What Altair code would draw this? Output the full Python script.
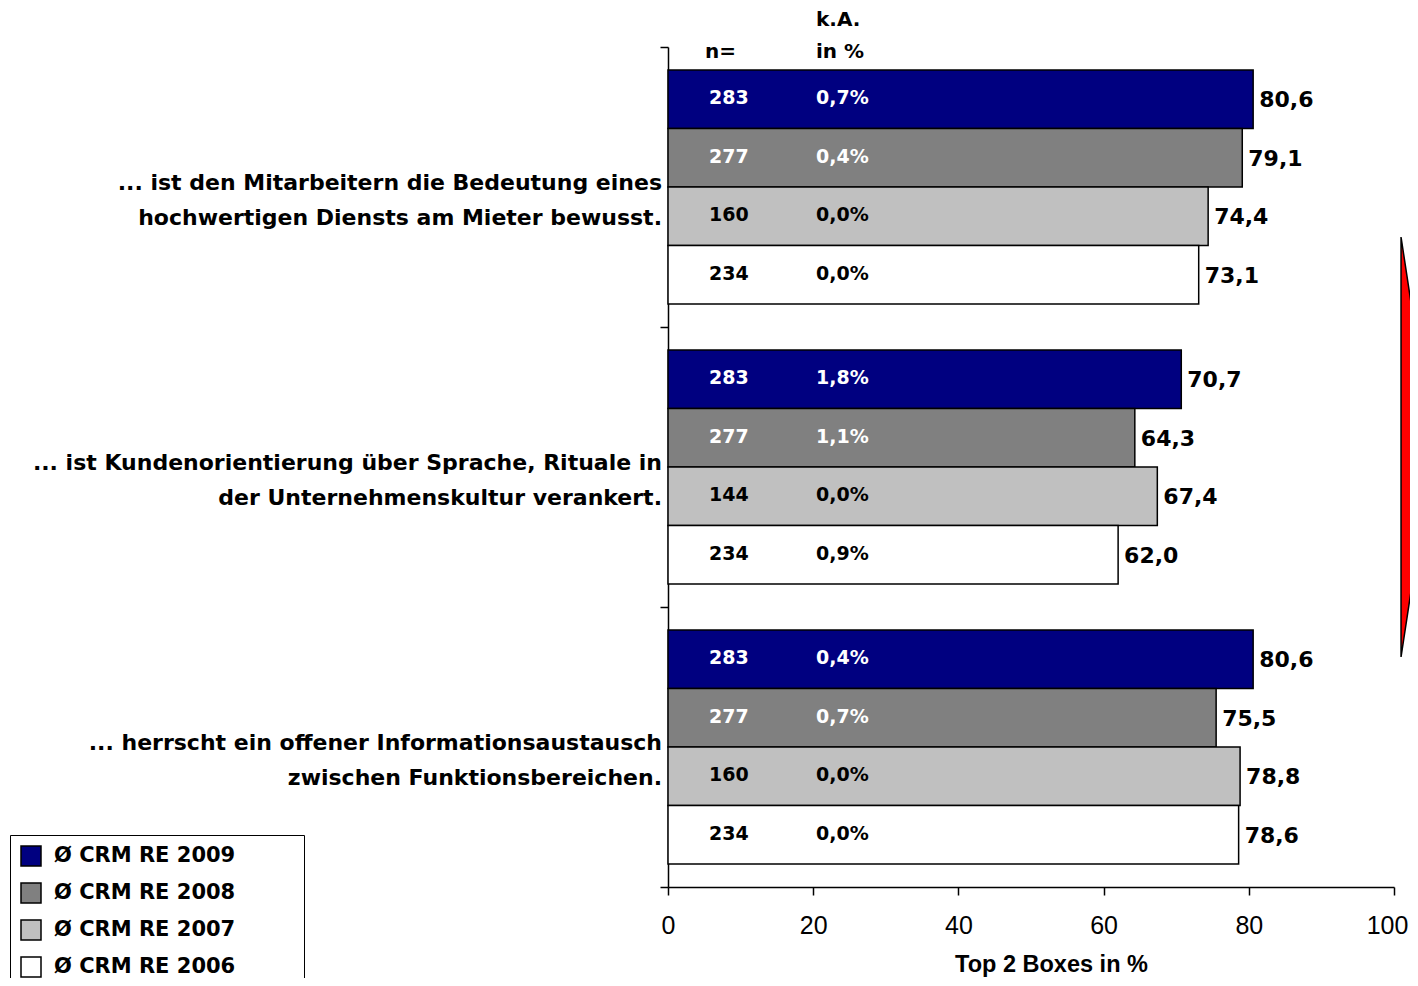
import altair as alt
import pandas as pd

groups = [
    "... ist den Mitarbeitern die Bedeutung eines\nhochwertigen Diensts am Mieter bewusst.",
    "... ist Kundenorientierung über Sprache, Rituale in\nder Unternehmenskultur verankert.",
    "... herrscht ein offener Informationsaustausch\nzwischen Funktionsbereichen.",
]
series = ["Ø CRM RE 2009", "Ø CRM RE 2008", "Ø CRM RE 2007", "Ø CRM RE 2006"]
colors = ["#000080", "#808080", "#C0C0C0", "#FFFFFF"]

values_g1 = [80.6, 79.1, 74.4, 73.1]
values_g2 = [70.7, 64.3, 67.4, 62.0]
values_g3 = [80.6, 75.5, 78.8, 78.6]
n_g1 = [283, 277, 160, 234]
n_g2 = [283, 277, 144, 234]
n_g3 = [283, 277, 160, 234]
ka_g1 = ["0,7%", "0,4%", "0,0%", "0,0%"]
ka_g2 = ["1,8%", "1,1%", "0,0%", "0,9%"]
ka_g3 = ["0,4%", "0,7%", "0,0%", "0,0%"]
x_ticks = [0, 20, 40, 60, 80, 100]

rows = []
for g, vals, ns, kas in zip(groups, [values_g1, values_g2, values_g3],
                            [n_g1, n_g2, n_g3], [ka_g1, ka_g2, ka_g3]):
    for s, v, n, k in zip(series, vals, ns, kas):
        rows.append({"group": g, "series": s, "value": v,
                     "label": f"{v:.1f}".replace(".", ","),
                     "n": str(n), "ka": k})
df = pd.DataFrame(rows)
df_groups = pd.DataFrame({"group": groups})

BOLD = "DejaVu Sans"
ARIAL = "Liberation Sans"

y_enc = alt.Y(
    "group:N", sort=groups, title=None,
    scale=alt.Scale(paddingInner=0, paddingOuter=0),
    axis=alt.Axis(labels=False, ticks=True, tickSize=8, tickColor="black",
                  tickWidth=1.5, domainColor="black", domainWidth=1.5,
                  bandPosition=1, tickExtra=True, grid=False, title=None),
)
yoff = alt.YOffset("series:N", sort=series,
                   scale=alt.Scale(paddingInner=0, paddingOuter=0.393))
x_enc = alt.X(
    "value:Q", scale=alt.Scale(domain=[0, 100], nice=False),
    axis=alt.Axis(values=x_ticks, title="Top 2 Boxes in %", grid=False,
                  tickSize=8, tickColor="black", tickWidth=1.5,
                  domainColor="black", domainWidth=1.5,
                  labelFont=ARIAL, labelFontSize=25, labelColor="black",
                  labelPadding=18,
                  labelOffset={"condition": {"test": "datum.value == 100", "value": -7}, "value": 0},
                  titleFont=ARIAL, titleFontSize=23.5, titleX=383,
                  titleFontWeight="bold", titleColor="black", titlePadding=14,
                  labelFlush=False),
)

base = alt.Chart(df)

PAD = "\u00a0" * 8 + "\u200b"

bars = base.mark_bar(stroke="black", strokeWidth=1.5).encode(
    x=x_enc, y=y_enc, yOffset=yoff,
    color=alt.Color(
        "series:N", sort=series,
        scale=alt.Scale(domain=series, range=colors),
        legend=alt.Legend(
            orient="none", legendX=-658, legendY=788, title=None,
            strokeColor="black", fillColor="white", padding=10,
            symbolType="square", symbolSize=400, symbolStrokeColor="black",
            symbolStrokeWidth=1.5, symbolOpacity=1,
            labelFont=BOLD, labelFontSize=21, labelFontWeight="bold",
            labelColor="black", labelOffset=12, rowPadding=11,
            labelExpr=f"datum.label + '{PAD}'", labelLimit=400,
        ),
    ),
)

value_text = base.mark_text(
    align="left", baseline="middle", dx=6, dy=1,
    font=BOLD, fontSize=22, fontWeight="bold", color="black",
).encode(x="value:Q", y=y_enc, yOffset=yoff, text="label:N")

inner_color = alt.condition(
    "datum.series == 'Ø CRM RE 2009' || datum.series == 'Ø CRM RE 2008'",
    alt.value("white"), alt.value("black"),
)
n_text = base.mark_text(
    align="left", baseline="middle", dy=-1,
    font=BOLD, fontSize=19, fontWeight="bold",
).encode(x=alt.value(41), y=y_enc, yOffset=yoff, text="n:N", color=inner_color)

ka_text = base.mark_text(
    align="left", baseline="middle", dy=-1,
    font=BOLD, fontSize=19, fontWeight="bold",
).encode(x=alt.value(148), y=y_enc, yOffset=yoff, text="ka:N", color=inner_color)

group_text = alt.Chart(df_groups).mark_text(
    align="right", baseline="middle", dy=-4, lineBreak="\n", lineHeight=35,
    font=BOLD, fontSize=22, fontWeight="bold", color="black",
).encode(x=alt.value(-6), y=y_enc, text="group:N")

hdr_n = alt.Chart(df_groups.head(1)).mark_text(
    align="left", baseline="middle", font=BOLD, fontSize=20,
    fontWeight="bold", color="black", text="n=",
).encode(x=alt.value(37), y=alt.value(5))
hdr_ka = alt.Chart(df_groups.head(1)).mark_text(
    align="left", baseline="middle", font=BOLD, fontSize=20,
    fontWeight="bold", color="black", text="k.A.",
).encode(x=alt.value(148), y=alt.value(-27))
hdr_in = alt.Chart(df_groups.head(1)).mark_text(
    align="left", baseline="middle", font=BOLD, fontSize=20,
    fontWeight="bold", color="black", text="in %",
).encode(x=alt.value(148), y=alt.value(5))

arrow = alt.Chart(df_groups.head(1)).mark_point(
    shape="M-0.076,-1L0.076,0L-0.076,1Z", filled=True, fill="red",
    stroke="black", strokeWidth=1.5, opacity=1, size=176400,
).encode(x=alt.value(749), y=alt.value(400))

chart = alt.layer(
    bars, value_text, n_text, ka_text, group_text, hdr_n, hdr_ka, hdr_in, arrow
).properties(
    width=726, height=840, background="white",
    autosize=alt.AutoSizeParams(type="none"),
    padding={"left": 660, "top": 39, "right": 16, "bottom": 91},
).configure_view(stroke=None, strokeWidth=0)

chart.save("out.html", embed_options={"renderer": "svg", "actions": False})
